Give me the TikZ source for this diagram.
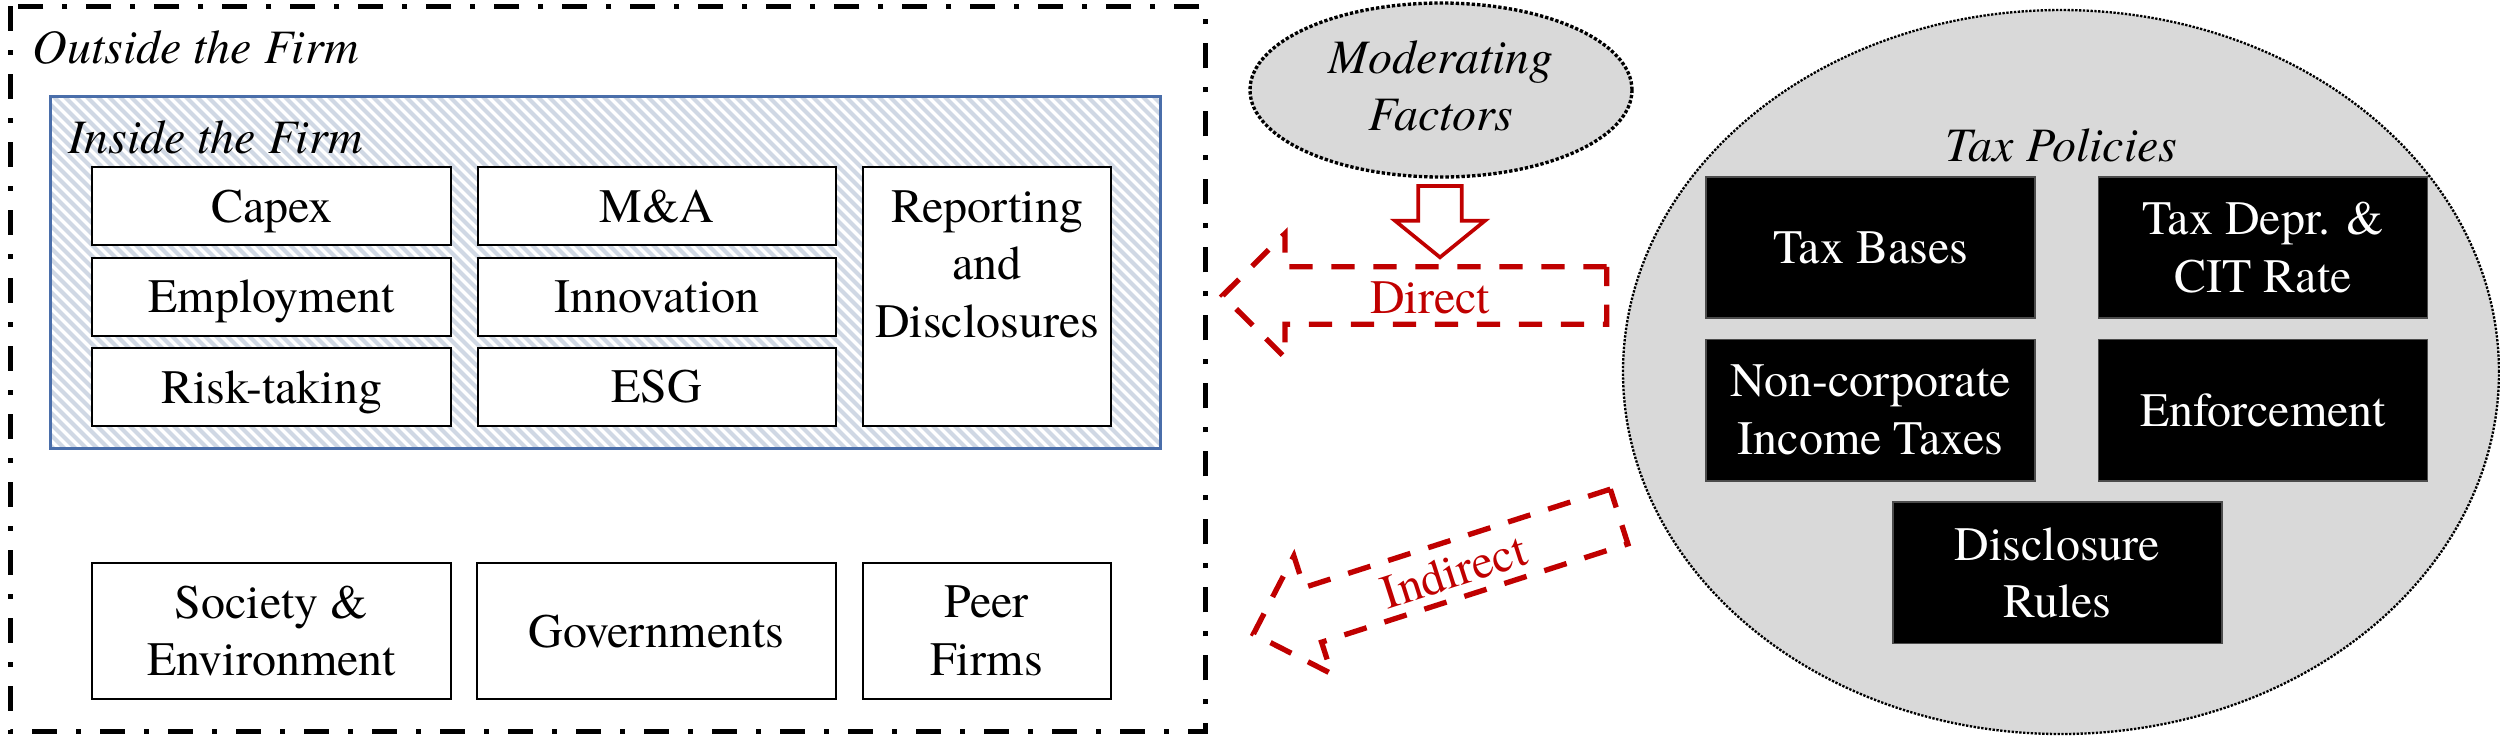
\documentclass[tikz,border=0pt]{standalone}
\usepackage{fontspec}
\IfFontExistsTF{texgyretermes-regular.otf}
  {\setmainfont{texgyretermes}[Extension=.otf, UprightFont=*-regular, ItalicFont=*-italic,
     BoldFont=*-bold, BoldItalicFont=*-bolditalic]}
  {\setmainfont{Liberation Serif}}
\usetikzlibrary{shapes.geometric}
\definecolor{tred}{RGB}{192,0,0}
\definecolor{hatchc}{RGB}{208,216,228}
\definecolor{inblue}{RGB}{74,110,170}
\definecolor{ellg}{RGB}{217,217,217}
\begin{document}
\begin{tikzpicture}[x=0.3pt,y=-0.3pt,
  txt/.style={font=\fontsize{14.4}{17.3}\selectfont},
  itxt/.style={font=\fontsize{14.4}{17.3}\selectfont\itshape},
  wbox/.style={txt, draw=black, line width=0.6pt, fill=white, inner sep=0pt, align=center,
    minimum width=107.6pt, minimum height=23.4pt},
  bbox/.style={txt, draw=gray!60!black, line width=0.5pt, fill=black, text=white, inner sep=0pt,
    align=center, minimum width=98.7pt, minimum height=42.4pt},
  nodesc/.style={text depth=0pt},
  redarrow/.style={tred, line width=1.6pt, dash pattern=on 7pt off 5.6pt, line join=miter},
  arrowtxt/.style={txt, text=tred, inner sep=0pt, anchor=base}
]
\useasboundingbox (0,0) rectangle (2500,738);

% outer dash-dot frame
\draw[line width=1.5pt, dash pattern=on 7.5pt off 5.7pt on 1.5pt off 5.7pt] (10,6) rectangle (1205,731.7);
\node[itxt, anchor=base west, inner sep=0pt] (outL) at (32,63) {Outside the Firm};

% inside hatched frame
\fill[white] (50.7,96.7) rectangle (1160.7,448.3);
\begin{scope}
  \clip (50.7,96.7) rectangle (1160.7,448.3);
  \foreach \i in {0,...,135} {
    \draw[hatchc, line width=1.2pt] ({50.7-360+\i*11},96.7) -- ++(352,352);
  }
\end{scope}
\draw[inblue, line width=0.75pt] (50.7,96.7) rectangle (1160.7,448.3);
\node[itxt, anchor=base west, inner sep=0pt] (inL) at (68,153) {Inside the Firm};

% inside boxes
\node[wbox, nodesc] (capex) at (271.65,206.3) {Capex};
\node[wbox] (ma) at (657,206.3) {M\&A};
\node[wbox, nodesc] (emp) at (271.65,296.5) {Employment};
\node[wbox] (inno) at (657,296.5) {Innovation};
\node[wbox, nodesc] (risk) at (271.65,387) {Risk-taking};
\node[wbox] (esg) at (657,387) {ESG};
\node[wbox, minimum width=74.3pt, minimum height=77.5pt] (rep) at (987.15,296.5) {};
\node[txt, align=center, inner sep=0pt] (repT) at (987.15,264.3) {Reporting\\and\\Disclosures};

% outside boxes
\node[wbox, minimum height=40.9pt] (soc) at (271.65,631.15) {Society \&\\Environment};
\node[wbox, minimum height=40.9pt, minimum width=107.7pt] (gov) at (656.5,631.15) {Governments};
\node[wbox, minimum height=40.9pt, minimum width=74.5pt] (peer) at (986.85,631.15) {Peer\\Firms};

% moderating factors
\node[ellipse, draw=black, fill=ellg, line width=1pt, dash pattern=on 1pt off 0.6pt,
  minimum width=114.6pt, minimum height=52.2pt, inner sep=0pt] (mod) at (1441,90) {};
\node[itxt, align=center, inner sep=0pt] (modT) at (1441,86) {Moderating\\Factors};
\draw[tred, line width=1.1pt, fill=white, line join=miter]
  (1418.3,186) -- (1461.7,186) -- (1461.7,220.7) -- (1485,220.7) -- (1440,257.3)
  -- (1395,220.7) -- (1418.3,220.7) -- cycle;

% tax policies
\node[ellipse, draw=black, fill=ellg, line width=0.7pt, dash pattern=on 0.7pt off 0.45pt,
  minimum width=262.8pt, minimum height=217.2pt, inner sep=0pt] (pol) at (2061,372) {};
\node[itxt, anchor=base, inner sep=0pt] (polT) at (2061.7,161.7) {Tax Policies};
\node[bbox] (tb) at (1870.65,247.5) {Tax Bases};
\node[bbox] (td) at (2263,247.5) {Tax Depr. \&\\CIT Rate};
\node[bbox] (nc) at (1870.65,410) {Non-corporate\\Income Taxes};
\node[bbox] (enf) at (2263,410) {Enforcement};
\node[bbox] (dr) at (2057.5,572.9) {Disclosure\\Rules};

% direct arrow
\begin{scope}[shift={(1414.7,295.5)}]
  \draw[redarrow] (192,-28.7) -- (-129.7,-28.7) -- (-129.7,-62) -- (-192,0)
    -- (-129.7,62) -- (-129.7,28.7) -- (192,28.7) -- cycle;
  \node[arrowtxt] (dirT) at (15.3,17.8) {Direct};
\end{scope}

% indirect arrow
\begin{scope}[shift={(1436.3,575.2)}, rotate=17.8]
  \draw[redarrow] (192,-28.7) -- (-129.7,-28.7) -- (-129.7,-62) -- (-192,0)
    -- (-129.7,62) -- (-129.7,28.7) -- (192,28.7) -- cycle;
  \node[arrowtxt, transform shape] (indT) at (18,17.8) {Indirect};
\end{scope}
\end{tikzpicture}
\end{document}
